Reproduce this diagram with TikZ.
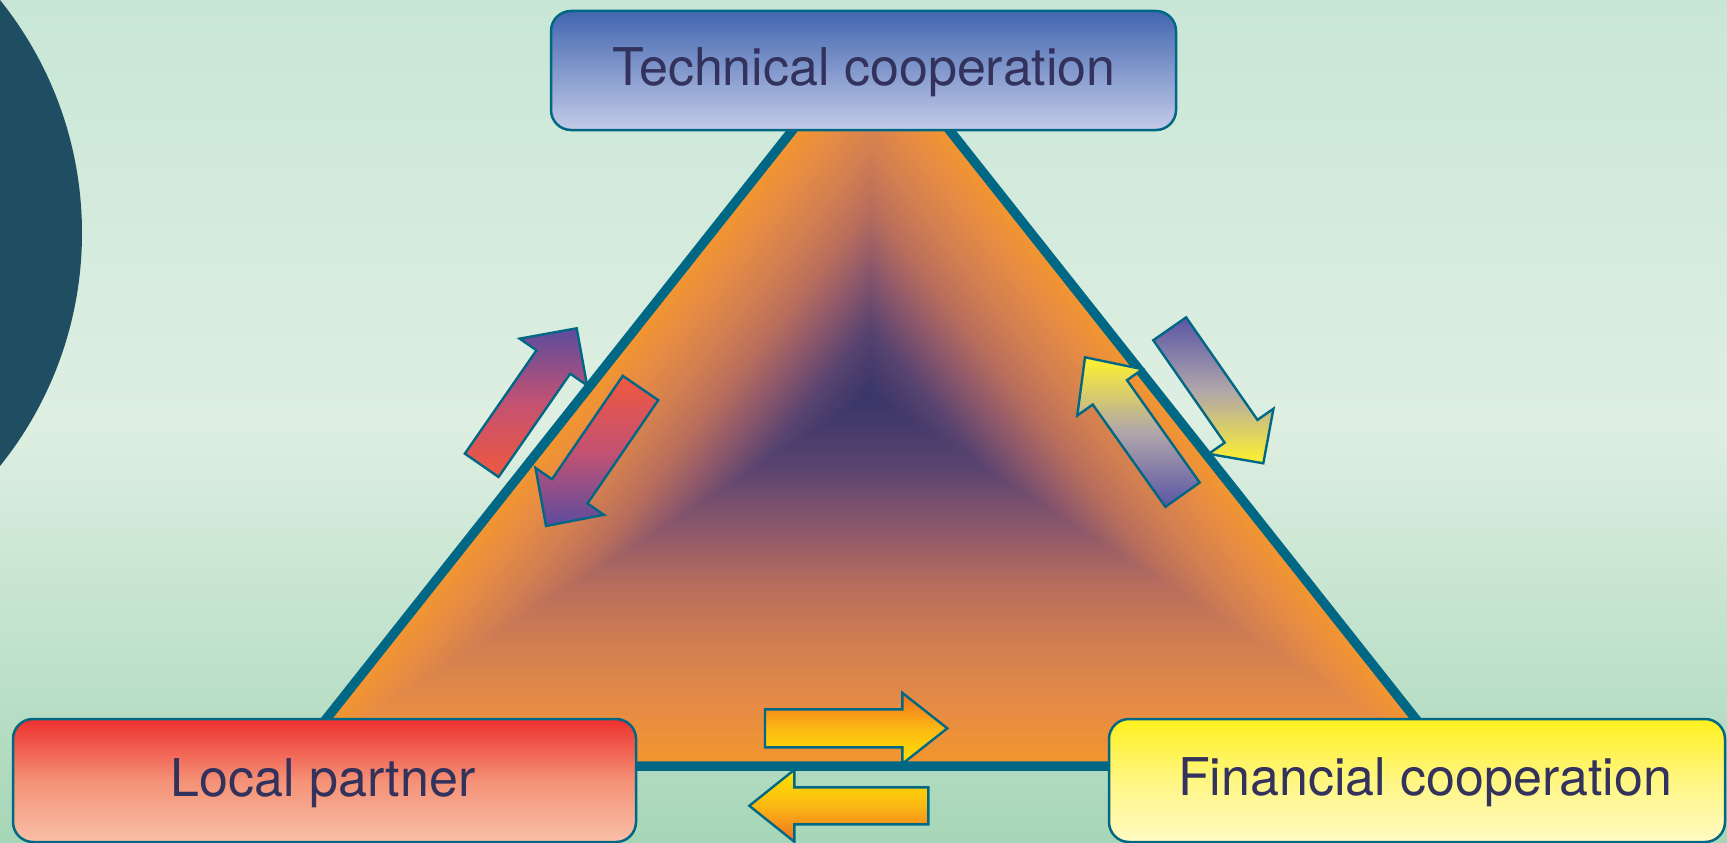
\documentclass[tikz,border=0pt]{standalone}
\usepackage{fontspec}
\setmainfont{TeX Gyre Heros}
\usetikzlibrary{calc}
\definecolor{bgtop}{RGB}{200,230,214}
\definecolor{bgmid}{RGB}{222,239,226}
\definecolor{bgbot}{RGB}{166,214,184}
\definecolor{edgeblue}{RGB}{0,104,132}
\definecolor{disc}{RGB}{31,78,99}
\definecolor{ink}{RGB}{50,50,92}
\definecolor{g0}{RGB}{56,54,104}
\definecolor{g1}{RGB}{72,60,108}
\definecolor{g2}{RGB}{90,68,112}
\definecolor{g3}{RGB}{146,90,106}
\definecolor{g4}{RGB}{184,110,92}
\definecolor{g5}{RGB}{212,128,80}
\definecolor{g6}{RGB}{230,140,68}
\definecolor{g7}{RGB}{244,150,46}
\definecolor{apurple}{RGB}{92,76,158}
\definecolor{ared}{RGB}{240,88,62}
\definecolor{apink}{RGB}{196,82,114}
\definecolor{ayellow}{RGB}{255,242,46}
\definecolor{aslate}{RGB}{90,85,166}
\definecolor{agrey}{RGB}{176,166,170}
\definecolor{aorange}{RGB}{240,110,32}
\definecolor{agold}{RGB}{255,228,0}
\definecolor{amid}{RGB}{251,184,20}
\definecolor{tbtop}{RGB}{66,102,176}
\definecolor{tbbot}{RGB}{196,203,232}
\definecolor{lptop}{RGB}{238,48,45}
\definecolor{lpmid}{RGB}{244,145,118}
\definecolor{lpbot}{RGB}{249,192,168}
\definecolor{fctop}{RGB}{255,240,30}
\definecolor{fcmid}{RGB}{255,246,130}
\definecolor{fcbot}{RGB}{255,250,195}
\newcommand\blockarrow[7]{%
  \coordinate (#1-t) at #3;
  \coordinate (#1-p) at #4;
  \coordinate (#1-h) at ($(#1-p)!#7pt!(#1-t)$);
  \shadedraw[#2] ($(#1-t)!#5pt!90:(#1-p)$) -- ($(#1-h)!#5pt!-90:(#1-t)$)
    -- ($(#1-h)!#6pt!-90:(#1-t)$) -- (#1-p) -- ($(#1-h)!#6pt!90:(#1-t)$)
    -- ($(#1-h)!#5pt!90:(#1-t)$) -- ($(#1-t)!#5pt!-90:(#1-p)$) -- cycle;
}
\tikzset{
  arrowline/.style={draw=edgeblue, line width=2.4pt, line join=miter},
  box/.style={draw=edgeblue, line width=2.5pt, rounded corners=20pt, inner sep=0pt},
  boxtext/.style={text=ink, font=\fontsize{52}{60}\selectfont, inner sep=0pt, anchor=base},
}
\begin{document}
\begin{tikzpicture}[x=1pt,y=-1pt]
\useasboundingbox (0,0) rectangle (1727,843);
\begin{scope}
\clip (0,0) rectangle (1727,843);
\shade[top color=bgtop, bottom color=bgbot, middle color=bgmid] (0,0) rectangle (1727,843);
\fill[disc] (-290,233) circle (372);
% triangle
\coordinate (ta) at (871,31);
\coordinate (tl) at (289,766);
\coordinate (tr) at (1453,766);
\coordinate (tc) at (870,396);
\foreach \ua/\ub/\uc/\ud in {0.85/1/g6/g7, 0.7/0.85/g5/g6, 0.52/0.7/g4/g5, 0.38/0.52/g3/g4, 0.2/0.38/g2/g3, 0.1/0.2/g1/g2, 0/0.1/g0/g1}{
  \foreach \k in {0,...,14}{
    \pgfmathsetmacro\myt{\ub-(\ub-\ua)*\k/15}
    \pgfmathsetmacro\myp{100*\k/15}
    \fill[\uc!\myp!\ud] ($(tc)!\myt!(ta)$) -- ($(tc)!\myt!(tl)$) -- ($(tc)!\myt!(tr)$) -- cycle;
  }
}
\draw[edgeblue, line width=9.5pt, line join=miter] (ta) -- (tl) -- (tr) -- cycle;
% arrows
\blockarrow{aA}{arrowline, top color=apurple, bottom color=ared, middle color=apink}{(481.7,465.3)}{(576.7,328.3)}{20.5}{41}{41}
\blockarrow{aB}{arrowline, top color=ared, bottom color=apurple, middle color=apink}{(640.5,388)}{(546,526)}{21.5}{41.5}{42}
\blockarrow{aC}{arrowline, top color=ayellow, bottom color=aslate, middle color=agrey}{(1182.5,494.7)}{(1085,357.3)}{21}{40}{43}
\blockarrow{aD}{arrowline, top color=aslate, bottom color=ayellow, middle color=agrey}{(1169.7,328.8)}{(1263.3,463.3)}{20}{39.5}{39}
\blockarrow{aE}{arrowline, top color=aorange, bottom color=agold, middle color=amid}{(765,728.3)}{(947.3,728.3)}{19}{35.5}{45}
\blockarrow{aF}{arrowline, top color=agold, bottom color=aorange, middle color=amid}{(928.3,805.8)}{(749.3,805.8)}{18.5}{36}{45}
% boxes
\node[box, minimum width=625pt, minimum height=119pt, top color=tbtop, bottom color=tbbot] (tech) at (863.5,70.5) {};
\node[box, minimum width=623pt, minimum height=123pt, top color=lptop, bottom color=lpbot, middle color=lpmid] (local) at (324.5,780.5) {};
\node[box, minimum width=616pt, minimum height=123pt, top color=fctop, bottom color=fcbot, middle color=fcmid] (fin) at (1417,780.5) {};
\node[boxtext] (techtxt) at (864,85) {Technical cooperation};
\node[boxtext] (localtxt) at (323,796) {Local partner};
\node[boxtext] (fintxt) at (1425,795) {Financial cooperation};
\end{scope}
\end{tikzpicture}
\end{document}
